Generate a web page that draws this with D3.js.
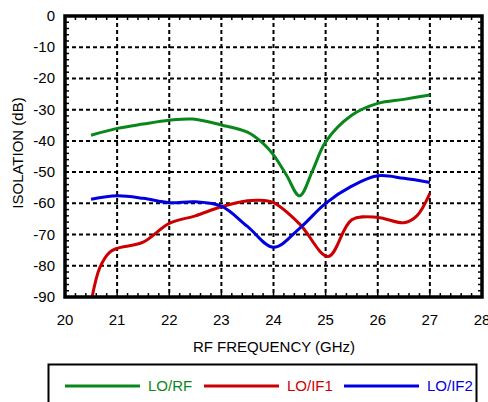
<!DOCTYPE html>
<html><head><meta charset="utf-8">
<script src="https://cdn.jsdelivr.net/npm/d3@7"></script>
<style>
body{margin:0;background:#fff;}
svg{display:block;font-family:"Liberation Sans",Arial,Helvetica,sans-serif;}
</style></head>
<body>
<svg id="c" width="488" height="402"></svg>
<script>
const xTicks = [20,21,22,23,24,25,26,27,28];
const yTicks = [0,-10,-20,-30,-40,-50,-60,-70,-80,-90];
const seriesNames = ["LO/RF","LO/IF1","LO/IF2"];
const seriesColors = ["#0a871a","#cc0000","#0000e0"];
const freqRF  = [20.5,21,21.5,22,22.45,23,23.5,23.8,24,24.25,24.5,24.75,25,25.5,26,26.5,27];
const lo_rf   = [-38.2,-36.0,-34.6,-33.4,-33.0,-34.9,-37.2,-40.8,-44.5,-51.0,-57.6,-49.5,-40.3,-31.8,-28.0,-26.7,-25.3];
const freqIF1 = [20.52,20.67,20.86,21,21.5,22,22.5,23,23.5,23.7,24,24.5,25.05,25.5,26,26.5,26.75,27];
const lo_if1  = [-90,-80.5,-75.6,-74.4,-72.4,-66.4,-64.0,-61.1,-59.2,-59.0,-59.8,-66.6,-77.0,-65.3,-64.5,-66.2,-64.0,-56.8];
const freqIF2 = [20.5,21,21.5,22,22.5,23,23.5,24,24.5,25,25.5,26,26.5,27];
const lo_if2  = [-58.7,-57.6,-58.4,-59.8,-59.5,-60.9,-67.4,-74.1,-68.0,-60.0,-54.5,-51.2,-52.0,-53.3];

const svg = d3.select("#c");
const L=65, R=482, T=16, B=297;
const x = d3.scaleLinear().domain([20,28]).range([L,R]);
const y = d3.scaleLinear().domain([-90,0]).range([B,T]);

// grid
const g = svg.append("g");
g.selectAll(".vg").data(xTicks.slice(1,-1)).join("line")
 .attr("x1",d=>x(d)).attr("x2",d=>x(d)).attr("y1",T).attr("y2",B)
 .attr("stroke","#000").attr("stroke-width",2).attr("stroke-dasharray","4,3");
g.selectAll(".hg").data(yTicks.slice(1,-1)).join("line")
 .attr("y1",d=>y(d)).attr("y2",d=>y(d)).attr("x1",L).attr("x2",R)
 .attr("stroke","#000").attr("stroke-width",2).attr("stroke-dasharray","4,3");

// minor ticks
const xm = d3.range(20,28.001,0.2);
const ym = d3.range(-90,0.001,2);
const tk = svg.append("g").attr("stroke","#000").attr("stroke-width",1.5);
xm.forEach(v=>{
  tk.append("line").attr("x1",x(v)).attr("x2",x(v)).attr("y1",B).attr("y2",B-4);
  tk.append("line").attr("x1",x(v)).attr("x2",x(v)).attr("y1",T).attr("y2",T+4);
});
ym.forEach(v=>{
  tk.append("line").attr("y1",y(v)).attr("y2",y(v)).attr("x1",L).attr("x2",L+4);
  tk.append("line").attr("y1",y(v)).attr("y2",y(v)).attr("x1",R).attr("x2",R-4);
});

// curves
const data = [[freqRF,lo_rf],[freqIF1,lo_if1],[freqIF2,lo_if2]];
const line = d3.line().x(d=>x(d[0])).y(d=>y(d[1])).curve(d3.curveCatmullRom.alpha(0.5));
data.forEach((s,i)=>{
  const pts = s[0].map((f,j)=>[f,s[1][j]]);
  svg.append("path").datum(pts).attr("d",line).attr("fill","none")
    .attr("stroke",seriesColors[i]).attr("stroke-width",3);
});

// frame
svg.append("rect").attr("x",L).attr("y",T).attr("width",R-L).attr("height",B-T)
 .attr("fill","none").attr("stroke","#000").attr("stroke-width",3.5);

// tick labels
const fs = 15;
svg.selectAll(".xl").data(xTicks).join("text")
 .attr("x",d=>x(d)).attr("y",325).attr("text-anchor","middle")
 .attr("font-size",fs).attr("fill","#000").text(d=>d);
svg.selectAll(".yl").data(yTicks).join("text")
 .attr("x",55).attr("y",d=>y(d)+5).attr("text-anchor","end")
 .attr("font-size",fs).attr("fill","#000").text(d=>d);

svg.append("text").attr("x",274).attr("y",352).attr("text-anchor","middle")
 .attr("font-size",fs).text("RF FREQUENCY (GHz)");
svg.append("text").attr("transform","translate(23,153) rotate(-90)").attr("text-anchor","middle")
 .attr("font-size",fs).text("ISOLATION (dB)");

// legend
svg.append("rect").attr("x",48.5).attr("y",364.5).attr("width",428).attr("height",60)
 .attr("fill","none").attr("stroke","#000").attr("stroke-width",2);
const lx = [65,204,344];
seriesNames.forEach((n,i)=>{
  svg.append("line").attr("x1",lx[i]).attr("x2",lx[i]+75).attr("y1",386).attr("y2",386)
   .attr("stroke",seriesColors[i]).attr("stroke-width",3);
  svg.append("text").attr("x",lx[i]+83).attr("y",391).attr("font-size",fs)
   .attr("fill",seriesColors[i]).text(n);
});
</script>
</body></html>
